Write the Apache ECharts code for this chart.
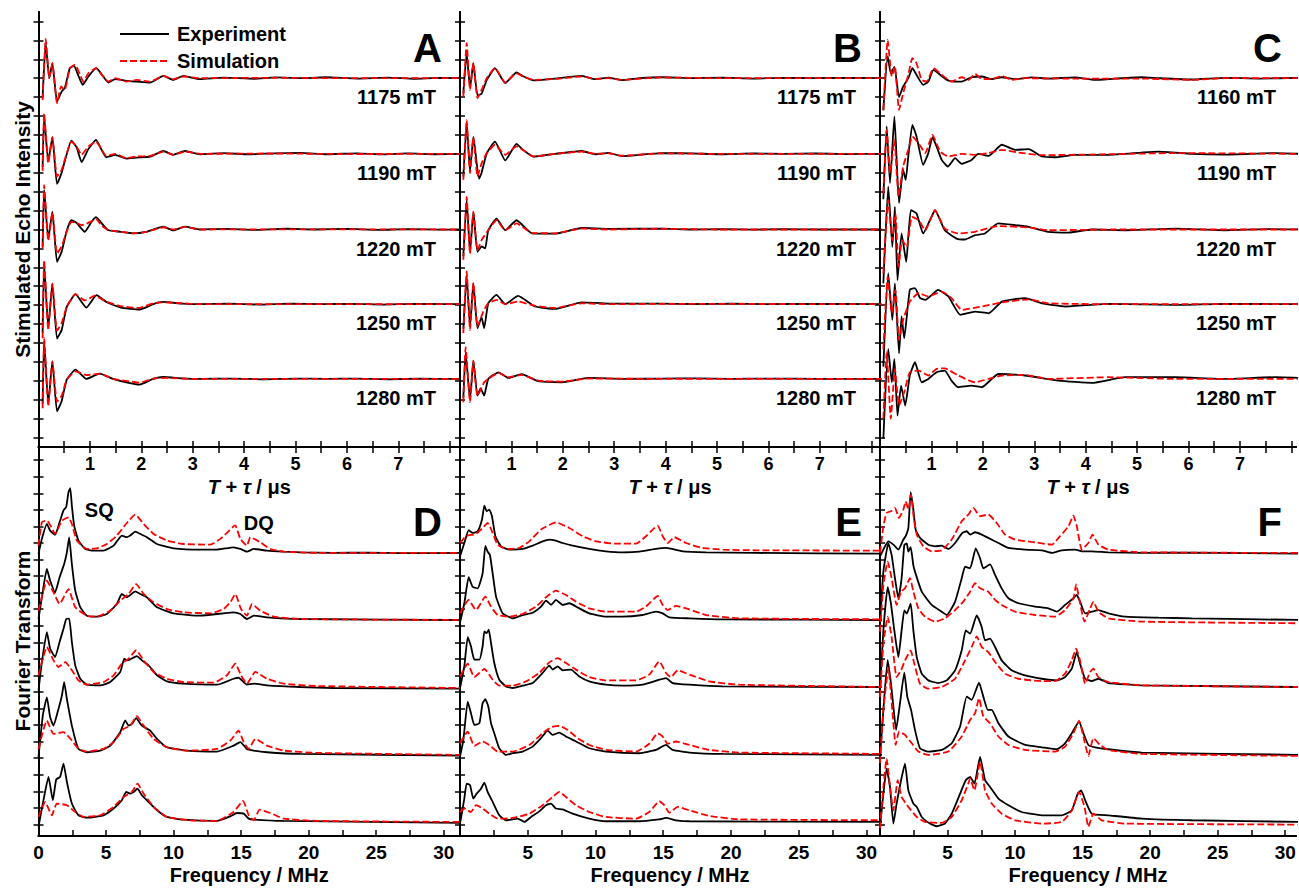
<!DOCTYPE html>
<html><head><meta charset="utf-8">
<script src="https://cdn.jsdelivr.net/npm/echarts@6/dist/echarts.min.js"></script>
<style>html,body{margin:0;padding:0;background:#fff}#c{width:1299px;height:888px}</style>
</head><body><div id="c"></div><script>
// ---------------- DATA ----------------
const fieldsAB = ['1175 mT','1190 mT','1220 mT','1250 mT','1280 mT'];
const fieldsC  = ['1160 mT','1190 mT','1220 mT','1250 mT','1280 mT'];
const timeOffsets = [19.5, 15.5, 11.5, 7.55, 3.6];
const freqOffsets = [17.1, 13.05, 9.0, 4.9, 0.85];
const timeTicks = [0.5,1,1.5,2,2.5,3,3.5,4,4.5,5,5.5,6,6.5,7,7.5,8];
const timeLabels = [1,2,3,4,5,6,7];
const freqTicks = [0,2.5,5,7.5,10,12.5,15,17.5,20,22.5,25,27.5,30];
const freqLabelsD = [0,5,10,15,20,25,30];
const freqLabelsEF = [5,10,15,20,25,30];
const topYTicks = [0.5,1.5,2.5,3.5,4.5,5.5,6.5,7.5,8.5,9.5,10.5,11.5,12.5,13.5,14.5,15.5,16.5,17.5,18.5,19.5,20.5,21.5,22.5];
const botYTicks = [0.7,1.7,2.7,3.7,4.7,5.7,6.7,7.7,8.7,9.7,10.7,11.7,12.7,13.7,14.7,15.7,16.7,17.7,18.7,19.7,20.7,21.7,22.7];

// Panel A : time traces [t (µs), relative intensity]
const A_exp = [
 [[0.08,-1.0],[0.14,1.85],[0.21,0],[0.27,0.79],[0.36,-1.23],[0.45,-0.71],[0.51,-0.53],[0.61,0.53],[0.69,0.65],[0.77,0.18],[0.86,-0.35],[0.97,0.09],[1.12,0.53],[1.19,0.35],[1.36,-0.23],[1.49,-0.05],[1.71,-0.14],[1.91,-0.18],[2.17,-0.23],[2.43,0.12],[2.62,-0.09],[2.82,0.12],[3.14,-0.05],[3.6,0.03],[4.2,-0.03],[4.6,0.04],[5.2,0],[5.6,0.05],[6.2,-0.02],[6.8,0.03],[7.3,-0.03],[7.8,0.02],[8.2,0]],
 [[0.08,-0.7],[0.11,1.95],[0.19,-0.4],[0.27,0.88],[0.36,-1.59],[0.45,-1.0],[0.51,-0.4],[0.64,0.7],[0.74,0.35],[0.84,-0.44],[0.97,0.25],[1.12,0.74],[1.23,0.2],[1.32,-0.18],[1.49,-0.05],[1.71,-0.25],[1.91,-0.2],[2.17,-0.15],[2.43,0.15],[2.62,-0.05],[2.85,0.15],[3.14,-0.02],[3.6,0.04],[4.1,-0.03],[4.6,0.03],[5.1,0.05],[5.6,-0.02],[6.2,0.03],[6.7,-0.03],[7.2,0.02],[7.7,-0.02],[8.2,0]],
 [[0.08,-0.9],[0.11,2.1],[0.19,-0.5],[0.27,0.95],[0.36,-1.71],[0.45,-1.18],[0.55,-0.05],[0.64,0.5],[0.74,0.35],[0.9,-0.12],[1.03,0.4],[1.12,0.65],[1.26,0.23],[1.36,-0.04],[1.6,-0.12],[1.84,-0.2],[2.1,-0.12],[2.43,0.15],[2.62,-0.05],[2.85,0.15],[3.14,0],[3.6,0.03],[4.2,-0.02],[4.8,0.04],[5.4,0],[6.0,0.03],[6.6,-0.02],[7.2,0.02],[7.8,-0.01],[8.2,0]],
 [[0.08,-1.5],[0.11,2.1],[0.19,-1.2],[0.27,1.09],[0.36,-1.82],[0.45,-1.37],[0.55,-0.14],[0.72,0.53],[0.93,-0.18],[1.13,0.48],[1.32,0.12],[1.6,-0.18],[1.97,-0.28],[2.23,0],[2.4,0.12],[2.8,0.03],[3.14,0],[3.7,0.03],[4.3,-0.02],[4.9,0.03],[5.5,0],[6.1,0.02],[6.7,-0.02],[7.3,0.02],[7.9,0],[8.2,0]],
 [[0.08,-1.3],[0.11,2.0],[0.19,-1.3],[0.27,0.93],[0.36,-1.72],[0.45,-1.18],[0.55,-0.04],[0.72,0.49],[0.93,0],[1.19,0.28],[1.45,0],[1.71,-0.18],[1.97,-0.3],[2.23,0],[2.43,0.1],[2.8,0.03],[3.14,0],[3.8,0.02],[4.4,-0.02],[5.0,0.02],[5.6,0],[6.2,0.02],[6.8,-0.02],[7.4,0.01],[8.2,0]]
];
const A_sim = [
 [[0.08,-1.15],[0.14,2.08],[0.21,0],[0.27,0.79],[0.36,-1.32],[0.44,-0.44],[0.51,-0.62],[0.61,0.53],[0.71,0.71],[0.81,0.18],[0.87,-0.18],[0.97,0.26],[1.12,0.53],[1.23,0.18],[1.36,-0.18],[1.49,0],[1.71,-0.18],[1.91,-0.09],[2.17,-0.18],[2.43,0.12],[2.62,-0.05],[2.82,0.09],[3.14,0],[4.5,0.02],[6,0],[8.2,0]],
 [[0.08,-0.9],[0.11,2.15],[0.19,-0.5],[0.27,0.88],[0.36,-1.2],[0.45,-0.85],[0.51,-0.32],[0.64,0.65],[0.74,0.39],[0.84,-0.05],[0.97,0.39],[1.12,0.65],[1.23,0.21],[1.32,-0.11],[1.49,0],[1.71,-0.23],[1.91,-0.14],[2.17,-0.11],[2.43,0.12],[2.62,-0.05],[2.85,0.12],[3.14,0],[4.5,0.02],[6,-0.01],[8.2,0]],
 [[0.08,-1.0],[0.11,2.34],[0.19,-0.6],[0.27,0.9],[0.36,-1.27],[0.45,-0.9],[0.55,-0.1],[0.64,0.4],[0.74,0.35],[0.84,0.23],[0.97,0.35],[1.12,0.55],[1.23,0.2],[1.36,-0.04],[1.6,-0.12],[1.84,-0.2],[2.1,-0.12],[2.43,0.12],[2.62,0],[2.85,0.14],[3.14,0],[4.5,0.01],[8.2,0]],
 [[0.08,-1.8],[0.11,2.33],[0.19,-1.37],[0.27,1.09],[0.36,-1.4],[0.45,-1.0],[0.55,-0.14],[0.72,0.53],[0.9,0.2],[1.1,0.45],[1.3,0.15],[1.6,-0.1],[1.96,-0.2],[2.23,0.05],[2.4,0.1],[2.8,0.05],[3.14,0],[8.2,0]],
 [[0.08,-1.55],[0.11,2.17],[0.19,-1.45],[0.27,0.93],[0.36,-1.2],[0.45,-0.9],[0.55,-0.04],[0.72,0.4],[0.93,0.2],[1.2,0.28],[1.45,0],[1.7,-0.1],[1.97,-0.2],[2.23,0.02],[2.5,0.05],[3.0,0],[8.2,0]]
];
// Panel B
const B_exp = [
 [[0.065,-0.8],[0.13,1.32],[0.195,-0.5],[0.26,0.79],[0.34,-0.9],[0.42,-0.82],[0.52,-0.1],[0.68,0.53],[0.88,-0.26],[1.1,0.3],[1.23,0.1],[1.43,-0.12],[1.85,-0.02],[2.37,0.12],[2.63,-0.05],[2.89,0.03],[3.15,-0.1],[3.5,0],[3.92,0.05],[4.5,0],[5.1,0.03],[5.7,-0.02],[6.3,0.02],[6.9,0],[7.5,0.02],[8.2,0]],
 [[0.065,-1.2],[0.13,1.6],[0.195,-0.9],[0.26,0.9],[0.37,-1.32],[0.42,-1.0],[0.52,0.03],[0.68,0.65],[0.88,-0.35],[1.1,0.53],[1.23,0.2],[1.43,-0.15],[1.85,0],[2.37,0.15],[2.63,-0.02],[2.89,0.05],[3.15,-0.12],[3.92,0.04],[4.5,0.02],[5.1,-0.02],[5.7,0.02],[6.3,0],[6.9,0.02],[7.5,-0.01],[8.2,0]],
 [[0.065,-1.4],[0.13,1.55],[0.195,-1.2],[0.26,0.93],[0.34,-1.18],[0.42,-0.9],[0.49,-1.0],[0.55,-0.04],[0.71,0.58],[0.88,-0.04],[1.1,0.49],[1.4,-0.2],[1.85,-0.22],[2.37,0.08],[2.9,0.03],[3.92,0.05],[4.5,0],[5.1,0.02],[5.7,-0.01],[6.3,0.02],[7,0],[8.2,0]],
 [[0.065,-1.3],[0.13,1.5],[0.195,-1.2],[0.26,1.11],[0.34,-1.27],[0.42,-0.7],[0.47,-1.27],[0.55,0.05],[0.71,0.49],[0.88,0],[1.13,0.44],[1.46,-0.12],[1.85,-0.25],[2.37,0.1],[2.9,0.03],[3.92,0.03],[4.6,0.01],[5.3,0.03],[6,0],[6.8,0.02],[8.2,0]],
 [[0.065,-1.0],[0.11,1.4],[0.195,-1.1],[0.26,0.97],[0.34,-0.88],[0.4,-0.5],[0.47,-0.88],[0.55,0],[0.75,0.35],[0.94,0.05],[1.2,0.25],[1.52,-0.12],[1.98,-0.18],[2.5,0.05],[3.2,0],[3.92,0.02],[4.6,0.03],[5.3,0],[6,0.02],[7,0],[8.2,0]]
];
const B_sim = [
 [[0.065,-0.97],[0.13,1.85],[0.195,-0.62],[0.26,0.79],[0.34,-1.06],[0.42,-0.62],[0.52,0],[0.68,0.53],[0.88,-0.23],[1.1,0.26],[1.23,0.09],[1.43,-0.09],[1.85,-0.04],[2.37,0.09],[2.63,-0.04],[2.89,0],[3.15,-0.09],[3.92,0.04],[5,0],[8.2,0]],
 [[0.065,-1.37],[0.13,1.8],[0.195,-1.02],[0.26,0.9],[0.34,-1.2],[0.42,-0.5],[0.52,0.03],[0.68,0.48],[0.88,-0.05],[1.1,0.39],[1.23,0.2],[1.43,-0.14],[1.85,0],[2.37,0.12],[2.63,0],[2.89,0.03],[3.15,-0.1],[3.92,0.03],[5,0],[8.2,0]],
 [[0.065,-1.6],[0.13,1.73],[0.195,-1.27],[0.26,0.93],[0.34,-1.1],[0.42,-0.56],[0.55,-0.04],[0.71,0.49],[0.88,-0.04],[1.1,0.32],[1.4,-0.18],[1.85,-0.2],[2.37,0.05],[2.9,0],[3.92,0.04],[5,0],[8.2,0]],
 [[0.065,-1.53],[0.13,1.73],[0.195,-1.36],[0.26,1.11],[0.34,-1.18],[0.45,-0.4],[0.55,0.05],[0.71,0.23],[0.88,0],[1.13,0.14],[1.46,-0.09],[1.85,-0.2],[2.37,0.05],[2.9,0],[3.92,0.02],[8.2,0]],
 [[0.065,-1.23],[0.11,1.68],[0.195,-1.23],[0.26,0.97],[0.34,-0.9],[0.47,-0.18],[0.55,0],[0.75,0.32],[0.94,0.09],[1.2,0.21],[1.52,-0.09],[1.98,-0.14],[2.5,0.02],[3.92,0],[8.2,0]]
];
// Panel C
const C_exp = [
 [[0.065,-1.7],[0.15,1.15],[0.21,0.26],[0.28,0.6],[0.37,-1.0],[0.45,-0.44],[0.55,0],[0.63,0.53],[0.71,0.18],[0.84,-0.35],[0.94,-0.18],[1.04,0.44],[1.17,0.18],[1.3,-0.09],[1.43,-0.18],[1.59,-0.18],[1.78,0.05],[1.98,0.09],[2.17,-0.05],[2.37,0.05],[2.63,-0.05],[2.95,0.04],[3.27,-0.02],[3.79,0.04],[4.18,-0.09],[4.57,-0.02],[5.09,0.05],[5.41,0],[6.06,-0.07],[6.71,0.02],[7.36,-0.02],[8.2,0.02]],
 [[0.065,-2.4],[0.13,1.45],[0.195,-1.55],[0.28,1.98],[0.37,-2.6],[0.45,-0.85],[0.5,-1.38],[0.55,-0.14],[0.63,1.53],[0.71,0.92],[0.84,-0.58],[0.94,0.04],[1.02,0.88],[1.1,0.39],[1.2,-0.32],[1.32,-0.67],[1.46,-0.23],[1.59,-0.53],[1.78,-0.32],[1.91,0],[2.11,-0.11],[2.37,0.48],[2.63,0.21],[2.89,0.25],[3.15,-0.14],[3.4,-0.18],[3.79,-0.05],[4.44,-0.05],[5.09,0.07],[5.41,0.12],[6.06,0],[6.71,-0.04],[7.68,0.04],[8.2,0]],
 [[0.065,-2.85],[0.16,2.26],[0.24,-0.92],[0.29,1.2],[0.34,-2.68],[0.42,-0.21],[0.51,-1.71],[0.6,1.02],[0.71,0.85],[0.84,-0.21],[0.97,0.49],[1.07,1.02],[1.26,-0.04],[1.49,-0.48],[1.65,-0.53],[1.85,-0.3],[2.04,-0.21],[2.3,0.32],[2.63,0.23],[2.89,0.14],[3.27,-0.12],[3.66,-0.16],[4.12,0],[4.77,-0.04],[5.74,0.05],[6.71,-0.04],[7.5,0.02],[8.2,0]],
 [[0.065,-3.3],[0.16,1.64],[0.24,-0.83],[0.29,1.1],[0.37,-2.6],[0.42,-0.65],[0.47,-1.8],[0.58,0.76],[0.68,0.85],[0.78,0.32],[0.88,0.23],[1.13,0.76],[1.33,0.41],[1.56,-0.56],[1.85,-0.39],[2.11,-0.48],[2.37,0.14],[2.82,0.32],[3.15,0.05],[3.6,-0.12],[4.44,0.02],[5.74,-0.04],[6.7,0.02],[8.2,0]],
 [[0.065,-3.17],[0.16,1.59],[0.23,-0.18],[0.28,1.06],[0.34,-1.94],[0.41,-0.35],[0.49,-1.41],[0.58,0.18],[0.68,0.88],[0.81,-0.18],[0.94,0],[1.1,0.35],[1.26,0.44],[1.39,-0.09],[1.52,-0.44],[1.78,-0.35],[1.98,-0.44],[2.3,0.26],[2.82,0.18],[3.47,-0.09],[4.12,-0.21],[4.77,0.09],[5.74,0.09],[6.71,0],[7.68,0.09],[8.2,0.05]]
];
const C_sim = [
 [[0.065,-1.68],[0.15,2.03],[0.23,0.09],[0.29,0.62],[0.37,-1.68],[0.45,-0.8],[0.55,0.18],[0.63,1.06],[0.71,0.79],[0.81,-0.09],[0.91,-0.18],[1.04,0.53],[1.2,0.18],[1.39,-0.18],[1.59,0.05],[1.72,-0.09],[1.85,0.23],[1.98,-0.05],[2.17,-0.05],[2.37,0.12],[2.56,-0.09],[2.82,0],[3.79,-0.02],[5.09,-0.02],[6.06,-0.09],[6.7,0],[8.2,0]],
 [[0.065,-2.1],[0.13,1.27],[0.195,-1.02],[0.28,0.74],[0.36,-2.26],[0.45,-0.67],[0.55,0.21],[0.63,0.92],[0.75,0.56],[0.88,0.04],[1.02,1.0],[1.17,0.12],[1.33,-0.14],[1.59,0],[1.85,-0.05],[2.11,0.04],[2.37,0.21],[2.69,0.07],[3.15,-0.07],[4.44,-0.02],[5.74,0.04],[8.2,0]],
 [[0.065,-2.33],[0.16,1.55],[0.24,-0.56],[0.3,0.85],[0.36,-1.98],[0.43,-0.56],[0.52,-0.92],[0.62,0.67],[0.75,0.49],[0.88,-0.04],[1.07,1.02],[1.26,0.05],[1.52,-0.21],[1.85,-0.12],[2.3,0.18],[2.89,0.11],[3.27,-0.04],[4.5,0],[8.2,0]],
 [[0.065,-2.4],[0.15,1.46],[0.23,-0.48],[0.3,0.76],[0.37,-1.9],[0.45,-0.83],[0.58,0.14],[0.75,0.58],[0.94,0.41],[1.2,0.67],[1.39,0.32],[1.59,-0.3],[1.98,-0.12],[2.37,0.09],[2.89,0.26],[3.27,0.05],[4.44,0],[8.2,0]],
 [[0.065,-2.1],[0.13,1.41],[0.21,-2.1],[0.29,0.53],[0.37,-1.41],[0.47,-0.71],[0.58,0.35],[0.75,0.44],[0.94,0.18],[1.1,0.53],[1.26,0.56],[1.52,0.18],[1.85,-0.18],[2.11,0],[2.37,0.18],[2.82,0.21],[3.27,0],[4.44,0.09],[5.74,0],[8.2,0]]
];
// Panel D : spectra [f (MHz), relative amplitude]
const D_exp = [
 [[0,-0.06],[0.25,0.85],[0.62,1.76],[0.86,1.35],[1.23,1.09],[1.56,1.85],[1.85,2.57],[2.05,2.77],[2.22,3.67],[2.35,3.91],[2.47,2.85],[2.64,1.65],[2.96,0.75],[3.46,0.24],[4.07,0.14],[4.81,0.14],[5.56,0.44],[6.17,1.05],[6.54,0.95],[6.79,1.05],[7.16,1.29],[7.53,1.15],[8.02,0.95],[8.77,0.54],[10,0.28],[11.98,0.2],[13.21,0.2],[14.44,0.34],[14.94,0.24],[15.43,0.08],[15.93,0.24],[16.91,0.14],[18.15,0.08],[19.38,0.04],[21.85,0],[24.3,0.02],[27,-0.01],[31.2,0]],
 [[0,0.06],[0.25,1.37],[0.62,3.08],[0.86,2.38],[1.23,1.67],[1.56,2.58],[1.9,3.38],[2.1,4.08],[2.27,4.99],[2.47,3.38],[2.72,1.77],[3.09,0.77],[3.58,0.26],[4.32,0.2],[5.06,0.36],[5.8,0.97],[6.17,1.57],[6.54,1.37],[7.16,1.73],[7.53,1.57],[8.02,1.37],[8.77,0.77],[10,0.4],[11.98,0.26],[14.44,0.46],[14.94,0.36],[15.43,0.06],[15.93,0.26],[16.91,0.16],[19.38,0.06],[31.2,0]],
 [[0,-0.2],[0.25,1.51],[0.62,3.32],[0.86,2.32],[1.23,1.81],[1.56,2.72],[1.85,3.52],[2.05,4.1],[2.27,4.13],[2.47,2.72],[2.72,1.31],[3.09,0.5],[3.58,0.14],[4.57,0.1],[5.31,0.3],[6.05,0.91],[6.35,1.71],[6.54,1.61],[6.79,1.67],[7.28,1.87],[7.65,1.61],[8.15,1.31],[8.77,0.71],[9.51,0.34],[10.74,0.2],[13.21,0.14],[14.44,0.5],[14.81,0.56],[15.43,0.14],[15.93,0.2],[16.91,0.1],[19.38,0],[21.85,-0.06],[31.2,-0.1]],
 [[0,-0.14],[0.32,2.38],[0.62,3.48],[0.86,2.28],[1.11,1.77],[1.48,2.78],[1.73,3.58],[1.9,4.39],[2.1,3.38],[2.47,1.77],[2.96,0.36],[3.58,0.16],[4.57,0.26],[5.31,0.56],[6.05,1.37],[6.42,2.08],[6.67,1.77],[6.91,1.87],[7.23,2.22],[7.65,1.77],[8.27,1.47],[8.77,0.97],[9.51,0.46],[10.99,0.26],[13.21,0.2],[14.44,0.56],[14.94,0.77],[15.43,0.36],[15.93,0.26],[16.91,0.16],[19.38,0.06],[31.2,-0.04]],
 [[0,-0.3],[0.32,1.11],[0.74,2.72],[1.06,1.31],[1.31,2.56],[1.6,2.72],[1.85,3.52],[2.1,2.42],[2.47,1.11],[2.96,0.4],[3.58,0.26],[4.81,0.4],[5.56,0.81],[6.17,1.31],[6.49,1.81],[6.79,1.71],[7.04,1.81],[7.33,2.01],[7.65,1.61],[8.27,1.11],[8.77,0.71],[9.51,0.3],[10.74,0.14],[13.21,0.06],[14.2,0.34],[14.69,0.54],[15.19,0.5],[15.56,0.2],[15.93,0.14],[18.15,0.06],[31.2,-0.06]]
];
const D_sim = [
 [[0,0.45],[0.25,1.85],[0.62,1.96],[0.86,1.69],[1.23,1.15],[1.73,1.95],[2.22,2.15],[2.47,1.75],[2.84,0.75],[3.58,0.24],[4.32,0.28],[5.06,0.54],[5.8,1.05],[6.54,1.81],[7.16,2.32],[7.78,1.75],[8.52,1.15],[9.51,0.75],[10.74,0.54],[12.72,0.5],[13.46,0.85],[13.95,1.21],[14.37,1.56],[14.57,1.66],[14.94,0.85],[15.43,0.44],[15.68,0.95],[16.42,0.64],[17.16,0.24],[18.15,0.08],[20.62,0],[31.2,0]],
 [[0,0.56],[0.62,2.37],[1.11,1.67],[1.56,0.97],[2.22,1.87],[2.72,0.77],[3.58,0.26],[4.32,0.2],[5.31,0.56],[6.05,1.17],[6.67,1.57],[7.23,2.17],[7.78,1.57],[8.52,1.07],[9.51,0.66],[10.74,0.46],[12.72,0.4],[13.7,0.66],[14.2,1.07],[14.57,1.57],[14.99,0.66],[15.43,0.26],[15.8,0.97],[16.42,0.56],[17.41,0.2],[19.38,0.06],[31.2,0]],
 [[0,0.7],[0.62,2.42],[1.11,1.61],[1.48,1.21],[1.98,1.51],[2.47,1.01],[2.96,0.4],[3.58,0.14],[4.81,0.3],[5.56,0.71],[6.17,1.41],[6.67,1.71],[7.23,2.22],[7.78,1.61],[8.52,0.91],[9.51,0.5],[10.74,0.3],[12.96,0.26],[13.95,0.71],[14.57,1.41],[14.99,0.71],[15.43,0.2],[16.05,0.91],[16.91,0.5],[18.15,0.2],[20.62,0.06],[31.2,-0.06]],
 [[0,0.36],[0.62,2.08],[1.11,1.27],[1.85,1.37],[2.47,0.87],[2.96,0.36],[3.58,0.2],[4.81,0.36],[5.56,0.77],[6.3,1.57],[6.79,1.77],[7.28,2.34],[7.78,1.77],[8.52,0.97],[9.51,0.46],[10.99,0.26],[13.21,0.36],[14.2,0.87],[14.81,1.47],[15.19,0.77],[15.56,0.36],[16.05,0.97],[16.91,0.56],[18.15,0.26],[20.62,0.12],[31.2,0]],
 [[0,0.3],[0.49,1.21],[0.99,0.4],[1.36,1.11],[2.1,1.01],[2.72,0.6],[3.33,0.3],[4.57,0.4],[5.56,0.91],[6.3,1.51],[6.91,1.81],[7.33,2.32],[7.78,1.71],[8.52,0.91],[9.51,0.3],[11.22,0.1],[13.21,0.06],[14.44,0.6],[15.14,1.27],[15.56,0.4],[15.93,0.1],[16.37,0.74],[17.16,0.54],[18.15,0.2],[20.62,0.06],[31.2,0]]
];
// Panel E
const E_exp = [
 [[0,-0.2],[0.32,0.6],[0.64,1.37],[0.93,1.21],[1.3,1.31],[1.62,2.01],[1.8,2.86],[1.97,2.52],[2.16,2.62],[2.36,2.22],[2.61,1.01],[3.03,0.4],[3.64,0.2],[4.62,0.24],[5.36,0.44],[6.1,0.7],[6.59,0.8],[7.08,0.74],[7.58,0.6],[8.31,0.44],[9.54,0.24],[10.77,0.1],[12,0.04],[13.24,0.08],[14.46,0.24],[15.2,0.3],[16.43,0.1],[18.16,0.04],[21.85,0],[31.2,-0.04]],
 [[0,-0.16],[0.32,1.01],[0.64,2.58],[0.93,2.01],[1.3,1.91],[1.67,2.82],[1.87,4.47],[2.04,4.13],[2.21,3.93],[2.41,2.82],[2.66,1.41],[3.15,0.4],[3.89,0.1],[4.62,0.3],[5.36,0.44],[5.98,0.81],[6.35,1.17],[6.72,0.91],[7.08,1.21],[7.58,0.91],[8.07,1.01],[8.81,0.7],[9.54,0.4],[10.77,0.2],[12,0.2],[13.48,0.3],[14.46,0.5],[14.96,0.4],[15.45,0.16],[16.93,0.1],[19.39,0.04],[31.2,0]],
 [[0,-0.06],[0.32,1.25],[0.57,3.02],[0.81,2.46],[1.06,1.65],[1.43,1.65],[1.67,2.46],[1.8,3.36],[1.97,3.26],[2.12,3.46],[2.29,2.66],[2.53,1.45],[2.9,0.44],[3.39,0.04],[3.89,-0.06],[4.62,0.08],[5.36,0.24],[6.1,0.85],[6.59,1.29],[6.84,1.05],[7.21,1.25],[7.58,1.01],[8.19,1.05],[8.81,0.64],[9.54,0.34],[10.77,0.14],[12,0.08],[13.48,0.14],[14.71,0.44],[15.2,0.54],[15.69,0.24],[16.93,0.14],[19.39,0.04],[31.2,0]],
 [[0,-0.1],[0.25,0.91],[0.57,3.22],[0.81,2.52],[1.06,1.81],[1.43,1.91],[1.67,3.13],[1.87,3.36],[2.09,2.92],[2.29,1.91],[2.53,1.31],[2.9,0.4],[3.39,0],[3.89,0.1],[4.62,0.2],[5.36,0.5],[5.98,1.01],[6.47,1.47],[6.84,1.21],[7.33,1.35],[7.82,1.11],[8.56,0.81],[9.54,0.4],[10.77,0.2],[13.24,0.1],[14.46,0.3],[15.2,0.6],[15.69,0.3],[16.93,0.14],[19.39,0.06],[31.2,0]],
 [[0,-0.1],[0.32,1.41],[0.49,2.32],[0.74,2.22],[0.98,1.41],[1.23,1.71],[1.55,2.01],[1.8,2.38],[2.04,1.81],[2.41,1.21],[2.9,0.4],[3.39,0.1],[3.89,0.16],[4.26,0.2],[4.75,0],[5.24,0.3],[5.85,0.64],[6.35,1.01],[6.72,1.11],[7.08,0.81],[7.58,0.76],[8.31,0.5],[9.54,0.2],[10.77,0.04],[13.24,0.04],[14.71,0.16],[15.2,0.24],[15.94,0.1],[16.93,0.04],[31.2,0]]
];
const E_sim = [
 [[0,0.6],[0.44,1.01],[1.18,1.15],[1.67,1.51],[2.04,1.81],[2.36,1.31],[2.78,0.5],[3.39,0.24],[4.38,0.3],[5.12,0.7],[5.98,1.41],[7.08,1.85],[8.07,1.51],[9.05,1.01],[10.04,0.7],[11.51,0.56],[12.99,0.56],[13.73,1.01],[14.22,1.41],[14.59,1.65],[14.96,1.01],[15.33,0.6],[15.82,0.95],[16.68,0.6],[17.91,0.3],[19.39,0.2],[21.85,0.16],[31.2,0.14]],
 [[0,0.4],[0.64,1.21],[1.18,0.6],[1.87,1.41],[2.29,0.81],[2.78,0.3],[3.64,0.2],[4.62,0.36],[5.61,0.81],[6.35,1.37],[7.08,1.77],[7.82,1.51],[8.56,1.11],[9.54,0.7],[10.77,0.5],[12.99,0.5],[13.73,0.81],[14.59,1.45],[14.96,0.91],[15.33,0.6],[15.94,0.85],[16.93,0.64],[18.16,0.3],[20.61,0.1],[31.2,0.04]],
 [[0,0.64],[0.57,1.41],[1.06,0.6],[1.8,1.09],[2.41,0.44],[2.9,0.08],[3.89,0.08],[4.87,0.34],[5.85,0.85],[6.59,1.49],[7.21,1.75],[7.82,1.45],[8.56,1.05],[9.54,0.6],[10.77,0.4],[12.99,0.4],[13.97,0.75],[14.71,1.55],[15.2,0.85],[15.57,0.6],[16.06,1.01],[16.93,0.75],[18.4,0.34],[20.61,0.14],[31.2,0]],
 [[0,0.7],[0.57,1.41],[1.06,0.54],[1.67,0.81],[2.16,0.6],[2.78,0.2],[3.89,0.2],[5.12,0.6],[6.1,1.31],[6.72,1.67],[7.33,1.75],[7.95,1.51],[8.68,1.01],[9.54,0.6],[10.77,0.3],[12.99,0.2],[13.97,0.67],[14.59,1.31],[14.96,1.11],[15.33,0.67],[15.94,0.81],[16.93,0.6],[18.4,0.3],[20.61,0.14],[31.2,0.06]],
 [[0,0.6],[0.32,0.81],[0.81,0.6],[1.18,1.01],[1.67,0.81],[2.16,0.5],[2.78,0.2],[3.89,0.24],[5.12,0.5],[6.1,1.01],[6.84,1.51],[7.33,1.81],[7.82,1.51],[8.56,1.01],[9.54,0.6],[10.77,0.3],[12.99,0.2],[13.97,0.6],[14.71,1.25],[15.08,1.01],[15.45,0.56],[16.06,0.91],[16.93,0.7],[18.4,0.36],[20.61,0.16],[31.2,0.1]]
];
// Panel F
const F_exp = [
 [[0,-0.2],[0.37,0.4],[0.62,0.7],[0.99,0.5],[1.36,0.2],[1.73,0.81],[1.9,1.01],[2.1,1.51],[2.27,3.67],[2.47,2.62],[2.64,1.41],[2.96,0.91],[3.58,0.5],[4.07,0.4],[4.57,0.44],[5.06,0.24],[5.56,0.6],[6.1,1.21],[6.42,1.31],[6.67,1.11],[7.04,1.25],[7.53,1.11],[8.02,0.91],[8.77,0.6],[9.51,0.3],[10.74,0.2],[11.98,0.16],[12.72,0],[13.46,0.16],[14.44,0.2],[14.94,0.1],[15.68,0.1],[16.91,0.04],[19.38,0],[23.09,0.02],[31.2,-0.04]],
 [[0,-0.3],[0.25,2.92],[0.62,4.63],[0.86,3.93],[1.11,2.52],[1.36,1.31],[1.6,2.52],[1.8,4.53],[1.98,4.63],[2.1,4.13],[2.27,4.4],[2.47,3.3],[2.59,2.92],[3.09,1.71],[3.83,0.91],[4.57,0.5],[4.94,0.3],[5.56,1.11],[6.05,2.52],[6.3,3.22],[6.67,3.12],[7.09,4.33],[7.41,3.73],[7.65,3.12],[8.15,3.36],[8.52,2.72],[9.01,1.91],[9.51,1.31],[10.25,1.01],[11.48,0.81],[12.47,0.7],[13.09,0.5],[13.7,0.91],[14.32,1.31],[14.57,1.51],[14.81,1.11],[15.19,0.4],[15.68,0.5],[16.17,0.6],[16.91,0.4],[18.15,0.2],[20.62,0.14],[23.09,0.1],[31.2,0]],
 [[0,-0.2],[0.25,3.42],[0.57,6.04],[0.81,5.04],[1.06,3.42],[1.36,1.81],[1.6,3.42],[1.8,4.63],[1.98,4.43],[2.27,5.04],[2.47,3.42],[2.72,1.81],[3.09,0.81],[3.58,0.4],[4.32,0.24],[4.94,0.4],[5.56,1.01],[6.05,2.22],[6.35,3.42],[6.67,3.22],[7.16,4.33],[7.53,3.63],[7.78,2.82],[8.15,2.92],[8.52,2.42],[9.01,1.61],[9.75,1.01],[10.74,0.7],[11.98,0.5],[13.09,0.4],[13.7,0.6],[14.2,1.11],[14.57,2.11],[14.81,1.41],[15.19,0.5],[15.68,0.36],[16.17,0.5],[16.91,0.24],[19.38,0.1],[31.2,0]],
 [[0,-0.2],[0.25,2.72],[0.57,5.74],[0.81,4.33],[0.99,2.92],[1.19,1.51],[1.48,3.12],[1.8,4.97],[2.02,3.52],[2.3,2.72],[2.59,1.51],[2.96,0.4],[3.58,0.2],[4.57,0.3],[5.31,0.7],[5.93,1.71],[6.42,3.52],[6.79,3.33],[7.33,4.37],[7.65,3.52],[7.98,2.72],[8.27,2.72],[8.77,1.91],[9.51,1.11],[10.74,0.6],[11.98,0.46],[13.09,0.34],[13.7,0.7],[14.2,1.31],[14.74,2.01],[15.06,1.31],[15.43,0.6],[15.93,0.46],[16.91,0.34],[19.38,0.14],[31.2,0]],
 [[0,-0.3],[0.25,1.71],[0.49,3.22],[0.74,2.11],[0.99,-0.1],[1.23,1.11],[1.56,2.52],[1.85,3.52],[2.1,1.91],[2.47,1.11],[2.72,0.91],[3.09,0.3],[3.7,-0.1],[4.2,-0.26],[4.81,-0.1],[5.31,0.5],[5.93,1.71],[6.35,2.52],[6.67,2.72],[6.99,2.32],[7.41,3.93],[7.78,2.52],[8.15,2.11],[8.77,1.41],[9.51,1.01],[10.49,0.6],[11.98,0.4],[13.46,0.4],[14.2,0.7],[14.64,1.71],[14.89,1.91],[15.19,1.31],[15.68,0.5],[16.91,0.4],[19.38,0.2],[23.09,0.1],[31.2,0]]
];
const F_sim = [
 [[0,0],[0.25,1.61],[0.49,2.42],[0.81,2.52],[1.11,2.72],[1.41,2.11],[1.73,2.62],[1.9,3.12],[2.1,2.62],[2.3,3.52],[2.47,2.32],[2.72,1.11],[3.21,0.4],[3.83,0.1],[4.57,0.16],[5.31,0.81],[6.05,1.91],[6.54,2.32],[6.91,2.72],[7.41,2.22],[8.02,2.32],[8.64,1.81],[9.26,1.11],[10,0.81],[11.48,0.64],[12.72,0.5],[13.33,1.01],[13.95,1.61],[14.32,2.26],[14.57,1.61],[14.94,0.2],[15.43,0.6],[15.73,1.11],[16.17,0.5],[16.91,0.2],[19.38,0.04],[31.2,0]],
 [[0,-0.7],[0.25,2.12],[0.57,3.52],[0.86,2.52],[1.23,0.91],[1.56,1.71],[1.85,1.91],[2.22,2.52],[2.47,1.71],[2.84,0.7],[3.33,0.2],[4.07,-0.1],[4.81,0.1],[5.56,0.6],[6.17,1.11],[6.67,1.71],[7.04,2.22],[7.41,1.91],[8.02,1.71],[8.52,1.21],[9.01,0.91],[10,0.5],[11.48,0.3],[12.96,0.2],[13.7,0.6],[14.32,1.31],[14.52,2.15],[14.74,1.31],[15.14,-0.1],[15.56,0.7],[15.8,1.11],[16.17,0.5],[16.91,0.1],[19.38,-0.1],[31.2,-0.2]],
 [[0,-0.6],[0.25,2.62],[0.57,4.23],[0.86,3.02],[1.23,0.6],[1.56,1.01],[1.85,1.61],[2.27,2.2],[2.54,1.41],[2.96,0.2],[3.58,-0.1],[4.57,0],[5.56,0.5],[6.3,1.61],[6.79,2.42],[7.16,3.06],[7.53,2.42],[8.02,2.11],[8.52,1.51],[9.26,0.81],[10.25,0.5],[11.98,0.36],[12.96,0.36],[13.7,0.81],[14.2,1.61],[14.52,2.32],[14.81,1.61],[15.19,0.2],[15.56,0.91],[15.8,1.11],[16.17,0.6],[16.91,0.3],[19.38,0.1],[31.2,0]],
 [[0,-0.5],[0.25,2.72],[0.62,5.24],[0.91,2.72],[1.16,0.6],[1.41,1.41],[1.85,1.21],[2.35,0.7],[2.84,0.2],[3.58,0],[5.06,0.2],[6.05,1.11],[6.67,2.11],[7.04,2.52],[7.33,3.42],[7.65,2.32],[8.15,1.91],[8.77,1.11],[9.51,0.6],[10.74,0.3],[12.96,0.2],[13.7,0.5],[14.32,1.31],[14.74,2.07],[15.06,1.11],[15.43,-0.06],[15.8,1.01],[16.3,0.6],[16.91,0.3],[19.38,0.06],[31.2,-0.06]],
 [[0,-0.4],[0.25,2.12],[0.49,3.83],[0.74,2.12],[0.99,0.7],[1.31,2.52],[1.6,1.51],[2.1,0.91],[2.72,0.3],[3.33,0],[4.57,-0.06],[5.31,0.3],[6.05,1.31],[6.54,2.32],[6.67,2.62],[6.99,1.91],[7.41,3.63],[7.78,1.91],[8.27,1.11],[9.01,0.5],[10,0.1],[11.98,-0.1],[13.46,0],[14.2,0.7],[14.74,1.81],[15.14,0.91],[15.43,-0.3],[15.8,0.5],[16.42,0.1],[18.15,-0.1],[31.2,-0.16]]
];

// ---------------- LAYOUT / STYLE ----------------
const FONT = '"Liberation Sans", Arial, Helvetica, sans-serif';
const grids = [
  {left:38.5, top:12, width:421.5, height:435},
  {left:460,  top:12, width:420,   height:435},
  {left:880,  top:12, width:416,   height:435},
  {left:38.5, top:447, width:421.5, height:389},
  {left:460,  top:447, width:420,   height:389},
  {left:880,  top:447, width:416,   height:389}
];
const timeMax = [8.2, 8.17, 8.09];
const freqMax = [31.2, 31.0, 30.8];
const lineAx = {show:true, lineStyle:{color:'#000', width:2}};
const tickSty = {color:'#000', width:1.5};

const xAxes = [], yAxes = [];
for (let g = 0; g < 6; g++) {
  const top = g < 3, col = g % 3;
  const max = top ? timeMax[col] : freqMax[col];
  xAxes.push({
    type:'value', gridIndex:g, position:'bottom', min:0, max:max,
    axisLine: lineAx, splitLine:{show:false},
    axisTick:{show:true, inside:true, length:6, lineStyle:tickSty, customValues: top ? timeTicks : freqTicks},
    axisLabel:{show:true, margin: top ? 8 : 7, color:'#000', fontFamily:FONT, fontWeight:'bold', fontSize: top ? 18 : 19,
      customValues: top ? timeLabels : (col === 0 ? freqLabelsD : freqLabelsEF)},
    name: top ? '{i|T} + {i|τ} / μs' : 'Frequency / MHz',
    nameLocation:'middle', nameGap: top ? 30 : 29,
    nameTextStyle:{color:'#000', fontFamily:FONT, fontWeight:'bold', fontSize:20,
      rich:{i:{fontStyle:'italic', fontWeight:'bold', fontFamily:FONT, fontSize:20, color:'#000'}}}
  });
  xAxes.push({
    type:'value', gridIndex:g, position:'top', min:0, max:max,
    axisLine: lineAx, splitLine:{show:false}, axisLabel:{show:false},
    axisTick:{show: top, inside:true, length:6, lineStyle:tickSty, customValues: timeTicks}
  });
  const ymax = top ? 23 : 23.5;
  const yt = top ? topYTicks : botYTicks;
  ['left','right'].forEach(pos => yAxes.push({
    type:'value', gridIndex:g, position:pos, min:0, max:ymax,
    axisLine: lineAx, splitLine:{show:false}, axisLabel:{show:false},
    axisTick:{show:true, inside:true, length:5, lineStyle:tickSty, customValues: yt}
  }));
}

const panels = [
  {exp:A_exp, sim:A_sim, g:0, off:timeOffsets},
  {exp:B_exp, sim:B_sim, g:1, off:timeOffsets},
  {exp:C_exp, sim:C_sim, g:2, off:timeOffsets},
  {exp:D_exp, sim:D_sim, g:3, off:freqOffsets},
  {exp:E_exp, sim:E_sim, g:4, off:freqOffsets},
  {exp:F_exp, sim:F_sim, g:5, off:freqOffsets}
];
const series = [];
panels.forEach(p => {
  for (let i = 0; i < 5; i++) {
    series.push({
      type:'line', name:'Experiment', xAxisIndex:2*p.g, yAxisIndex:2*p.g, symbol:'none', showSymbol:false,
      smooth:0.15, z:2, lineStyle:{color:'#000', width:1.8}, itemStyle:{color:'#000'},
      data: p.exp[i].map(d => [d[0], d[1] + p.off[i]])
    });
  }
  for (let i = 0; i < 5; i++) {
    series.push({
      type:'line', name:'Simulation', xAxisIndex:2*p.g, yAxisIndex:2*p.g, symbol:'none', showSymbol:false,
      smooth:0.15, z:3, lineStyle:{color:'#ff0000', width:1.8, type:[7,3]}, itemStyle:{color:'#ff0000'},
      data: p.sim[i].map(d => [d[0], d[1] + p.off[i]])
    });
  }
});

const chart = echarts.init(document.getElementById('c'), null, {renderer:'svg', width:1299, height:888});
chart.setOption({
  animation:false,
  backgroundColor:'#fff',
  grid: grids.map(g => Object.assign({containLabel:false}, g)),
  xAxis: xAxes, yAxis: yAxes, series: series,
  legend: {
    data:['Experiment','Simulation'], orient:'vertical', left:119, top:24, padding:0,
    itemWidth:49, itemHeight:20, itemGap:7, selectedMode:false,
    itemStyle:{opacity:0},
    textStyle:{color:'#000', fontFamily:FONT, fontWeight:'bold', fontSize:20, lineHeight:20, padding:[0,0,0,3]}
  }
});

// ---------------- TEXT ANNOTATIONS ----------------
const txt = (x, y, s, size, align, rot) => ({
  type:'text', x:x, y:y, rotation: rot || 0, z:100,
  style:{text:s, fill:'#000', font:'bold ' + size + 'px ' + FONT, align:align || 'center', verticalAlign:'middle'}
});
const gfx = [];
const letters = ['A','B','C','D','E','F'];
const letterRight = [442, 862, 1282];
for (let g = 0; g < 6; g++) {
  const col = g % 3;
  gfx.push(txt(letterRight[col], g < 3 ? 48 : 522, letters[g], 40, 'right'));
}
for (let col = 0; col < 3; col++) {
  const names = col === 2 ? fieldsC : fieldsAB;
  for (let i = 0; i < 5; i++) {
    const p = chart.convertToPixel({gridIndex: col}, [0, timeOffsets[i]]);
    gfx.push(txt(letterRight[col] - 6, p[1] + 19, names[i], 20, 'right'));
  }
}
gfx.push(txt(22, 229.5, 'Stimulated Echo Intensity', 21, 'center', Math.PI/2));
gfx.push(txt(22, 641, 'Fourier Transform', 21, 'center', Math.PI/2));
const sq = chart.convertToPixel({gridIndex:3}, [4.5, 0]);
const dq = chart.convertToPixel({gridIndex:3}, [16.3, 0]);
gfx.push(txt(sq[0], 510, 'SQ', 20, 'center'));
gfx.push(txt(dq[0], 523, 'DQ', 20, 'center'));
chart.setOption({graphic: gfx});
</script></body></html>
